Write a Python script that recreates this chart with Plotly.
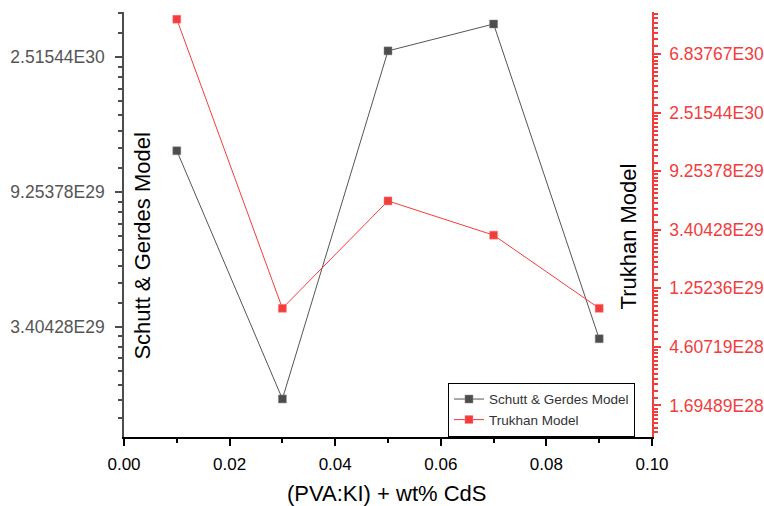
import math
import plotly.graph_objects as go

# ---- data ----
x_vals = [0.01, 0.03, 0.05, 0.07, 0.09]
schutt_gerdes = [1.254e30, 1.99e29, 2.63e30, 3.21e30, 3.11e29]
trukhan = [1.242e31, 8.9e28, 5.57e29, 3.105e29, 8.9e28]

left_exponents = [68, 69, 70]
right_exponents = [65, 66, 67, 68, 69, 70, 71]
x_ticks = [0.00, 0.02, 0.04, 0.06, 0.08, 0.10]

# ---- styles ----
FONT = "Arial, Liberation Sans, sans-serif"
GRAY = "#4d4d4d"
RED = "#f23d3d"
LN10 = math.log(10)


def fmt(v):
    s = f"{v:.5E}"
    return s.replace("E+", "E")


def minor_vals(exps, nsub, lo, hi):
    out = []
    for n in range(min(exps) - 2, max(exps) + 2):
        a, b = math.exp(n), math.exp(n + 1)
        for k in range(1, nsub):
            v = a + k * (b - a) / nsub
            if lo <= v <= hi:
                out.append(v)
    return out


left_range_ln = (67.181, 70.333)
right_range_ln = (64.46, 71.72)

left_ticks = [math.exp(n) for n in left_exponents]
right_ticks = [math.exp(n) for n in right_exponents]

fig = go.Figure()
fig.add_trace(go.Scatter(
    x=x_vals, y=schutt_gerdes, name="Schutt & Gerdes Model",
    mode="lines+markers", yaxis="y",
    line=dict(color="#555555", width=1),
    marker=dict(symbol="square", size=8, color=GRAY,
                line=dict(color="#888888", width=0.5)),
))
fig.add_trace(go.Scatter(
    x=x_vals, y=trukhan, name="Trukhan Model",
    mode="lines+markers", yaxis="y2",
    line=dict(color=RED, width=1),
    marker=dict(symbol="square", size=8, color=RED,
                line=dict(color="#ff8080", width=0.5)),
))

fig.update_layout(
    width=764, height=506,
    margin=dict(l=124, r=112, t=12, b=69, autoexpand=False),
    paper_bgcolor="white", plot_bgcolor="white",
    showlegend=True,
    font=dict(family=FONT, color="black"),
    xaxis=dict(
        range=[0, 0.1], tickmode="array", tickvals=x_ticks,
        ticktext=[f"{v:.2f}" for v in x_ticks],
        showgrid=False, zeroline=False, automargin=False,
        showline=True, linecolor="black", linewidth=1.5,
        ticks="outside", ticklen=7, tickwidth=1.5, tickcolor="black",
        ticklabelstandoff=4,
        tickfont=dict(size=17, color="black", family=FONT),
        minor=dict(dtick=0.01, tick0=0, ticks="outside", ticklen=4,
                   tickwidth=1.5, tickcolor="black", showgrid=False),
    ),
    xaxis2=dict(
        range=[0, 0.1], overlaying="x", side="top", anchor="y",
        tickmode="array", tickvals=x_ticks, showticklabels=False,
        showgrid=False, zeroline=False, automargin=False,
        showline=True, linecolor="black", linewidth=1.5,
        ticks="inside", ticklen=7, tickwidth=1.5, tickcolor="black",
        minor=dict(dtick=0.01, tick0=0, ticks="inside", ticklen=4,
                   tickwidth=1.5, tickcolor="black", showgrid=False),
    ),
    yaxis=dict(
        type="log",
        range=[left_range_ln[0] / LN10, left_range_ln[1] / LN10],
        tickmode="array", tickvals=left_ticks,
        ticktext=[fmt(v) for v in left_ticks],
        showgrid=False, zeroline=False, automargin=False,
        showline=True, linecolor=GRAY, linewidth=1.5,
        ticks="outside", ticklen=7, tickwidth=1.5, tickcolor=GRAY,
        ticklabelstandoff=7,
        tickfont=dict(size=17.5, color="#555555", family=FONT),
        minor=dict(tickmode="array",
                   tickvals=minor_vals(left_exponents, 9,
                                       math.exp(left_range_ln[0]),
                                       math.exp(left_range_ln[1])),
                   ticks="outside", ticklen=4, tickwidth=1.5,
                   tickcolor=GRAY, showgrid=False),
    ),
    yaxis2=dict(
        type="log", overlaying="y", side="right", anchor="x",
        range=[right_range_ln[0] / LN10, right_range_ln[1] / LN10],
        tickmode="array", tickvals=right_ticks,
        ticktext=[fmt(v) for v in right_ticks],
        showgrid=False, zeroline=False, automargin=False,
        showline=True, linecolor=RED, linewidth=1.5,
        ticks="outside", ticklen=7, tickwidth=1.5, tickcolor=RED,
        ticklabelstandoff=5,
        tickfont=dict(size=17.5, color=RED, family=FONT),
        minor=dict(tickmode="array",
                   tickvals=minor_vals(right_exponents, 12,
                                       math.exp(right_range_ln[0]),
                                       math.exp(right_range_ln[1])),
                   ticks="outside", ticklen=4, tickwidth=1.5,
                   tickcolor=RED, showgrid=False),
    ),
    legend=dict(
        x=0.6136, y=0.1276, xanchor="left", yanchor="top",
        bgcolor="white", bordercolor="black", borderwidth=1,
        font=dict(size=13.5, color="#333333", family=FONT),
        tracegroupgap=0, itemwidth=30,
    ),
    annotations=[
        dict(text="Schutt & Gerdes Model", xref="paper", yref="paper",
             x=0.036, y=0.448, xanchor="center", yanchor="middle",
             textangle=-90, showarrow=False,
             font=dict(size=22, color="black", family=FONT)),
        dict(text="Trukhan Model", xref="paper", yref="paper",
             x=0.9564, y=0.4718, xanchor="center", yanchor="middle",
             textangle=-90, showarrow=False,
             font=dict(size=22, color="black", family=FONT)),
        dict(text="(PVA:KI) + wt% CdS", xref="paper", yref="paper",
             x=0.498, y=-0.133, xanchor="center", yanchor="middle",
             showarrow=False,
             font=dict(size=22, color="black", family=FONT)),
    ],
)

fig.write_html(
    "out.html",
    config={"displayModeBar": False},
    post_script="document.body.style.margin='0';"
                "document.body.style.overflow='hidden';",
)
